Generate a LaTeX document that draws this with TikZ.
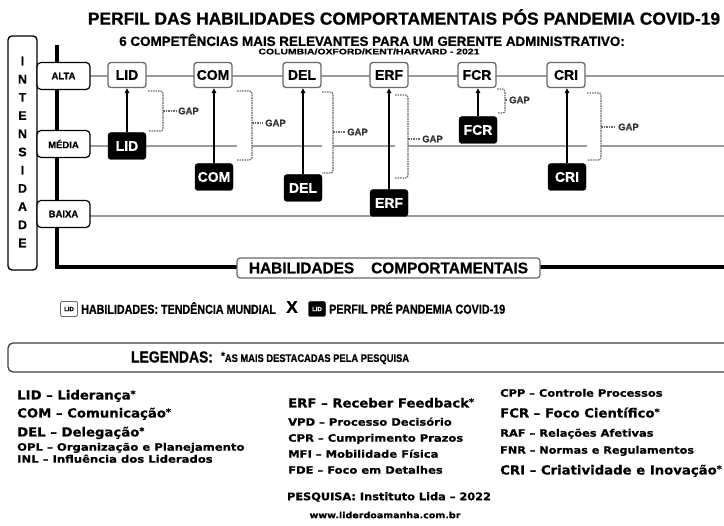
\documentclass[tikz,border=0pt]{standalone}
\usepackage{fontspec}
\setmainfont{Liberation Sans}[BoldFeatures={FakeBold=0.8}]
\newfontfamily\dv{DejaVu Sans}[BoldFeatures={FakeBold=0.6}]
\usetikzlibrary{arrows.meta}
\definecolor{lgray}{RGB}{155,155,155}
\definecolor{bgray}{RGB}{105,105,105}
\newcommand\fs[1]{\fontsize{#1}{#1}\selectfont}
\newcommand\cnd[2]{\scalebox{#1}[1]{#2}}
\newcommand\astk{{\fs{9}\raisebox{2.5pt}{*}}}
\begin{document}
\begin{tikzpicture}[x=1pt,y=-1pt,
  wbox/.style={draw=bgray, line width=1.3pt, rounded corners=3pt, fill=white, minimum width=38pt, minimum height=25pt, inner sep=0pt, font=\fs{14}\bfseries},
  bbox/.style={fill=black, draw=black, rounded corners=3pt, minimum width=38pt, minimum height=27pt, inner sep=0pt, text=white, font=\fs{14}\bfseries},
  glin/.style={draw=lgray, line width=1.3pt},
  gapbr/.style={draw=bgray, line width=1.1pt, dash pattern=on 1.6pt off 0.9pt, rounded corners=2.5pt},
  gapl/.style={font=\fs{9.5}\bfseries, text=black!80, inner sep=0pt, anchor=west},
  arr/.style={line width=2.2pt, -{Triangle[length=5pt,width=4.5pt]}},
  lvl/.style={draw=black, line width=1.2pt, fill=white, rounded corners=4pt, minimum width=53pt, minimum height=27pt, inner sep=0pt, font=\fs{9.5}\bfseries},
  big/.style={anchor=base west, font=\dv\bfseries\fs{12.5}, inner sep=0pt},
  small/.style={anchor=base west, font=\dv\bfseries\fs{10.2}, inner sep=0pt}
]
\useasboundingbox (0,0) rectangle (724,526);
\fill[white] (0,0) rectangle (724,526);

% titles
\node[font=\fs{17.4}\bfseries] (title) at (404,17) {PERFIL DAS HABILIDADES COMPORTAMENTAIS PÓS PANDEMIA COVID-19};
\node[font=\fs{13.4}\bfseries] (sub) at (372,40) {6 COMPETÊNCIAS MAIS RELEVANTES PARA UM GERENTE ADMINISTRATIVO:};
\node[font=\fs{8}\bfseries, inner sep=0pt] (src) at (369,51.5) {\cnd{1.3}{COLUMBIA/OXFORD/KENT/HARVARD - 2021}};

% gray level lines
\draw[glin] (90,76) -- (724,76);
\draw[glin] (90,146) -- (237,146);
\draw[glin] (252,146) -- (322,146);
\draw[glin] (333,146) -- (395,146);
\draw[glin] (408,146) -- (587,146);
\draw[glin] (601,146) -- (724,146);
\draw[glin] (90,216) -- (724,216);

% axis
\coordinate (atop) at (57,45);
\coordinate (aend) at (724,267);
\draw[line width=3.5pt] (atop) |- (aend);
\node[draw=bgray, fill=white, line width=1.2pt, rounded corners=3pt, minimum width=303pt, minimum height=20pt, font=\fs{15.4}\bfseries] (hab) at (388.5,268) {HABILIDADES\hspace{17pt}COMPORTAMENTAIS};

% intensidade
\node[draw=black, line width=1.4pt, fill=white, rounded corners=4pt, minimum width=29pt, minimum height=234pt, inner sep=0pt] (int) at (22.5,153) {};
\node[font=\fontsize{12.5}{18.2}\selectfont\bfseries, align=center] (intt) at (22.5,152) {I\\N\\T\\E\\N\\S\\I\\D\\A\\D\\E};
\node[lvl] (alta) at (63.5,76) {ALTA};
\node[lvl] (media) at (63.5,144) {MÉDIA};
\node[lvl] (baixa) at (63.5,214) {BAIXA};

% top boxes
\node[wbox] (wLID) at (127,75) {LID};
\node[wbox] (wCOM) at (213,75) {COM};
\node[wbox] (wDEL) at (302,75) {DEL};
\node[wbox] (wERF) at (389,75) {ERF};
\node[wbox] (wFCR) at (477,75) {FCR};
\node[wbox] (wCRI) at (566,75) {CRI};
% black boxes
\node[bbox] (bLID) at (127,146) {LID};
\node[bbox] (bCOM) at (214,177) {COM};
\node[bbox] (bDEL) at (303,188) {DEL};
\node[bbox] (bERF) at (389,203) {ERF};
\node[bbox] (bFCR) at (478,130) {FCR};
\node[bbox] (bCRI) at (567,177) {CRI};
% arrows
\foreach \n in {LID,COM,DEL,ERF,FCR,CRI}
  \draw[arr] (b\n.north) -- (b\n.north |- w\n.south);

% gap brackets
\foreach \xl/\xv/\yt/\yb/\ym/\lx in {148/163/91/131/111/178, 237/252/91/160/123/265, 322/333/92/173/132/347, 395/408/95/178/139/422, 497/505/89/113/100/509, 587/601/93/160/127/618}{
  \draw[gapbr] (\xl,\yt) -- (\xv,\yt) -- (\xv,\yb) -- (\xl,\yb);
  \draw[gapbr] (\xv,\ym) -- (\lx-2,\ym);
  \node[gapl] at (\lx,\ym) {GAP};
}

% key row
\node[draw=bgray, line width=0.9pt, rounded corners=2pt, minimum width=17pt, minimum height=15pt, inner sep=0pt, font=\fs{6}\bfseries] (kw) at (69,309) {LID};
\node[anchor=west, inner sep=0pt, font=\fs{13}\bfseries] (kwt) at (81,308) {\cnd{0.825}{HABILIDADES: TENDÊNCIA MUNDIAL}};
\node[font=\fs{17}\bfseries, inner sep=0pt] (kx) at (292,307) {X};
\node[fill=black, draw=black, rounded corners=2pt, minimum width=17pt, minimum height=15pt, inner sep=0pt, text=white, font=\fs{6}\bfseries] (kb) at (317,309) {LID};
\node[anchor=west, inner sep=0pt, font=\fs{13}\bfseries] (kbt) at (329,308) {\cnd{0.83}{PERFIL PRÉ PANDEMIA COVID-19}};

% legend box
\node[draw=black!75, line width=1.3pt, rounded corners=5pt, minimum width=732pt, minimum height=29pt] (leg) at (374,357.5) {};
\node[font=\fs{16}\bfseries, inner sep=0pt] (legt) at (172,357) {\cnd{0.87}{LEGENDAS:}};
\node[anchor=west, font=\fs{11}\bfseries, inner sep=0pt] (legs) at (221,358) {\cnd{0.85}{\raisebox{2.5pt}{*}AS MAIS DESTACADAS PELA PESQUISA}};

% legend items
\node[big] (l1) at (17,399.5) {\cnd{1.06}{LID – Liderança\astk}};
\node[big] (l2) at (17,417.5) {\cnd{1.06}{COM – Comunicação\astk}};
\node[big] (l3) at (17,436.5) {\cnd{1.06}{DEL – Delegação\astk}};
\node[small] (l4) at (17,450.7) {\cnd{1.14}{OPL – Organização e Planejamento}};
\node[small] (l5) at (17,462.7) {\cnd{1.14}{INL – Influência dos Liderados}};

\node[big] (m1) at (288,407.5) {\cnd{1.06}{ERF – Receber Feedback\astk}};
\node[small] (m2) at (288,425.7) {\cnd{1.13}{VPD – Processo Decisório}};
\node[small] (m3) at (288,441.7) {\cnd{1.13}{CPR – Cumprimento Prazos}};
\node[small] (m4) at (288,457.7) {\cnd{1.13}{MFI – Mobilidade Física}};
\node[small] (m5) at (288,473.7) {\cnd{1.13}{FDE – Foco em Detalhes}};
\node[font=\dv\bfseries\fs{10.5}, inner sep=0pt] (m6) at (389,497) {\cnd{1.08}{PESQUISA: Instituto Lida – 2022}};
\node[font=\dv\bfseries\fs{8.5}, inner sep=0pt] (m7) at (385,515) {\cnd{1.12}{www.liderdoamanha.com.br}};

\node[small] (r1) at (500,396.7) {\cnd{1.12}{CPP – Controle Processos}};
\node[big] (r2) at (500,417.5) {\cnd{1.06}{FCR – Foco Científico\astk}};
\node[small] (r3) at (500,436.7) {\cnd{1.12}{RAF – Relações Afetivas}};
\node[small] (r4) at (500,453.7) {\cnd{1.1}{FNR – Normas e Regulamentos}};
\node[big] (r5) at (500,474.5) {\cnd{1.06}{CRI – Criatividade e Inovação\astk}};
\end{tikzpicture}
\end{document}
